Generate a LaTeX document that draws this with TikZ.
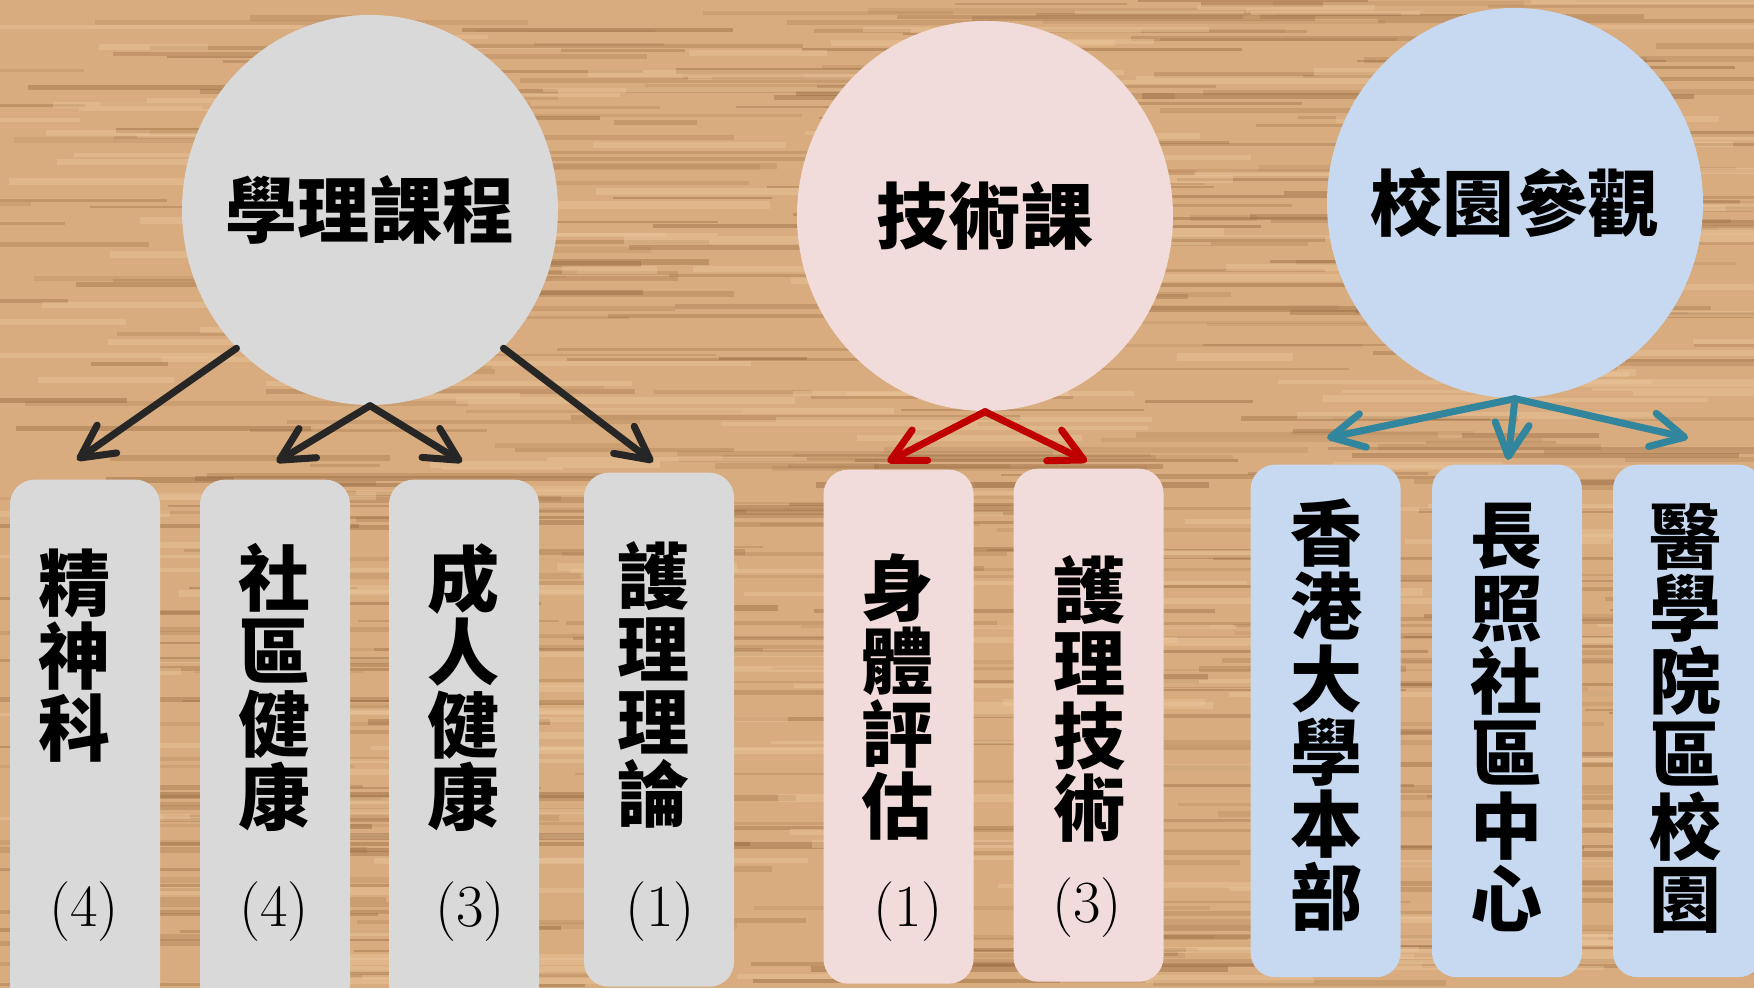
\documentclass[tikz,border=0pt]{standalone}
\usepackage{fontspec}
\newfontfamily\cjk{Noto Sans CJK TC}
\usetikzlibrary{arrows.meta}
\usetikzlibrary{shapes.geometric}
\definecolor{wood}{RGB}{216,172,126}
\definecolor{grain}{RGB}{146,100,60}
\definecolor{sheen}{RGB}{238,200,158}
\definecolor{greyfill}{RGB}{217,217,217}
\definecolor{pinkfill}{RGB}{242,220,219}
\definecolor{bluefill}{RGB}{198,217,240}
\definecolor{inkdark}{RGB}{38,38,38}
\definecolor{inkred}{RGB}{192,0,0}
\definecolor{inkteal}{RGB}{49,133,156}
\tikzset{ball/.style={ellipse, minimum width=3.76cm, minimum height=3.9cm, inner sep=0pt}}
\tikzset{title/.style={font=\cjk\bfseries\fontsize{20.5}{22}\selectfont}}
\tikzset{slot/.style={rectangle, rounded corners=7pt, minimum width=1.5cm, anchor=north, inner sep=0pt}}
\tikzset{word/.style={anchor=north, align=center, inner sep=0pt,
   font=\cjk\bfseries\fontsize{20.5}{20.7}\selectfont}}
\tikzset{num/.style={inner sep=0pt, font=\fontsize{17}{20}\selectfont}}
\tikzset{link/.style={line width=2pt, line cap=round,
   -{Straight Barb[length=3.3mm, width=3.4mm, round]}}}

\begin{document}
\begin{tikzpicture}

    \useasboundingbox (0,0) rectangle (17.54,9.88);
    \fill[wood] (0,0) rectangle (17.54,9.88);

    % wood grain
    \pgfmathsetseed{17}
    \foreach \k in {1,...,520} {
      \pgfmathsetmacro{\gx}{rnd*18-1}
      \pgfmathsetmacro{\gy}{rnd*9.9}
      \pgfmathsetmacro{\gl}{0.6+rnd*4}
      \pgfmathsetmacro{\go}{0.12+0.3*rnd}
      \fill[grain, opacity=\go] (\gx,\gy) rectangle ++(\gl,0.02+0.04*rnd);
    }
    \foreach \k in {1,...,220} {
      \pgfmathsetmacro{\gx}{rnd*18-1}
      \pgfmathsetmacro{\gy}{rnd*9.9}
      \pgfmathsetmacro{\gl}{0.8+rnd*3}
      \fill[sheen, opacity=0.4] (\gx,\gy) rectangle ++(\gl,0.03+0.05*rnd);
    }

    % circles
    \node[ball, fill=greyfill, label={[title]center:學理課程}] (gc) at (3.70,7.78) {};
    \node[ball, fill=pinkfill, label={[title]center:技術課}]   (pc) at (9.85,7.72) {};
    \node[ball, fill=bluefill, label={[title]center:校園參觀}] (bc) at (15.15,7.85) {};

    % boxes
    \node[slot, fill=greyfill, minimum height=5.3cm]  (b1) at (0.85,5.09) {};
    \node[slot, fill=greyfill, minimum height=5.3cm]  (b2) at (2.75,5.09) {};
    \node[slot, fill=greyfill, minimum height=5.3cm]  (b3) at (4.64,5.09) {};
    \node[slot, fill=greyfill, minimum height=5.14cm] (b4) at (6.59,5.16) {};

    \node[slot, fill=pinkfill, minimum height=5.14cm] (p1) at (8.985,5.19) {};
    \node[slot, fill=pinkfill, minimum height=5.13cm] (p2) at (10.885,5.20) {};

    \node[slot, fill=bluefill, minimum height=5.125cm] (c1) at (13.256,5.24) {};
    \node[slot, fill=bluefill, minimum height=5.125cm] (c2) at (15.07,5.24) {};
    \node[slot, fill=bluefill, minimum height=5.125cm] (c3) at (16.88,5.24) {};

    % box texts
    \node[word] (w1) at (0.75,4.40)  {精\\神\\科};
    \node[word] (w2) at (2.75,4.45)  {社\\區\\健\\康};
    \node[word] (w3) at (4.64,4.45)  {成\\人\\健\\康};
    \node[word] (w4) at (6.54,4.47)  {護\\理\\理\\論};
    \node[word] (w5) at (8.98,4.35)  {身\\體\\評\\估};
    \node[word] (w6) at (10.90,4.33) {護\\理\\技\\術};
    \node[word] (w7) at (13.27,4.895) {香\\港\\大\\學\\本\\部};
    \node[word] (w8) at (15.07,4.854) {長\\照\\社\\區\\中\\心};
    \node[word] (w9) at (16.86,4.854) {醫\\學\\院\\區\\校\\園};

    \node[num] (n1) at (0.84,0.76)  {(4)};
    \node[num] (n2) at (2.74,0.76)  {(4)};
    \node[num] (n3) at (4.70,0.76)  {(3)};
    \node[num] (n4) at (6.60,0.76)  {(1)};
    \node[num] (n5) at (9.08,0.76)  {(1)};
    \node[num] (n6) at (10.87,0.80) {(3)};

    % arrows
    \draw[link, inkdark] (gc.226) -- ([shift={(-0.08,0.19)}]b1.north);
    \draw[link, inkdark] (gc.south) -- ([shift={(0.015,0.17)}]b2.north);
    \draw[link, inkdark] (gc.south) -- ([shift={(-0.02,0.17)}]b3.north);
    \draw[link, inkdark] (gc.314) -- ([shift={(-0.06,0.10)}]b4.north);

    \draw[link, inkred] (pc.south) -- ([shift={(-0.11,0.07)}]p1.north);
    \draw[link, inkred] (pc.south) -- ([shift={(-0.015,0.065)}]p2.north);

    \draw[link, inkteal] (bc.south) -- ([shift={(0.015,0.26)}]c1.north);
    \draw[link, inkteal] (bc.south) -- ([shift={(0.01,0.04)}]c2.north);
    \draw[link, inkteal] (bc.south) -- ([shift={(0,0.26)}]c3.north);

\end{tikzpicture}
\end{document}
